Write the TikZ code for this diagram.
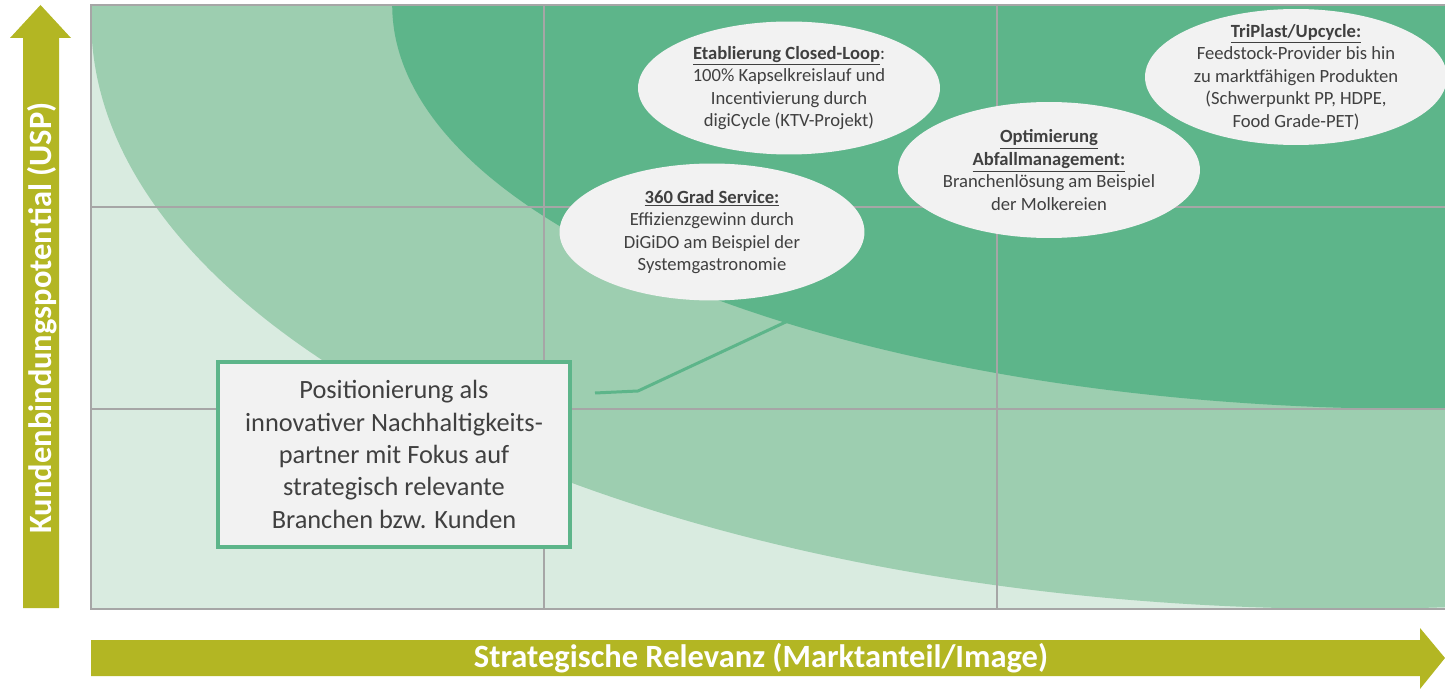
\documentclass[tikz,border=0pt]{standalone}
\usepackage{fontspec}
\setmainfont{Carlito}
\usepackage{xcolor}
\usetikzlibrary{shapes.geometric, positioning}

\definecolor{bandlight}{HTML}{D9EBE0}
\definecolor{bandmid}{HTML}{9DCEB0}
\definecolor{banddark}{HTML}{5DB58A}
\definecolor{bubblegray}{HTML}{F2F2F2}
\definecolor{txtgray}{HTML}{404040}
\definecolor{gridgray}{HTML}{A6A6A6}
\definecolor{olive}{HTML}{B3B623}

\begin{document}
\begin{tikzpicture}[x=0.02cm, y=-0.02cm,
    bubble/.style={ellipse, fill=bubblegray, text=txtgray, align=center, inner sep=-8pt,
        font=\fontsize{10.6}{12.8}\selectfont},
    callout/.style={rectangle, draw=banddark, line width=2.2pt, fill=bubblegray, text=txtgray,
        align=center, minimum width=7.04cm, minimum height=3.7cm,
        font=\fontsize{15}{18.4}\selectfont},
    axislabel/.style={text=white, font=\fontsize{18.5}{20}\selectfont\bfseries}]
\useasboundingbox (0,0) rectangle (1445,689);
%
% portfolio field
\begin{scope}
    \clip (91,5) rectangle (1445,609);
    \fill[bandlight] (91,5) rectangle (1445,609);
    \fill[bandmid] (1350,20) ellipse [x radius=25.18cm, y radius=11.78cm];
    \fill[banddark] (1420,5) ellipse [x radius=20.56cm, y radius=8.08cm];
    \draw[gridgray, line width=0.7pt]
        (544,5) -- (544,609) (997,5) -- (997,609)
        (91,207) -- (1445,207) (91,409) -- (1445,409);
\end{scope}
\draw[gridgray, line width=0.9pt] (1445,5) -- (91,5) -- (91,609) -- (1445,609);
%
% axes
\fill[olive] (23,608) -- (23,38) -- (10,38) -- (40.5,5) -- (71,38) -- (59,38) -- (59,608) -- cycle;
\node[axislabel, rotate=90] (ylab) at (42,318) {Kundenbindungspotential (USP)};
\fill[olive] (91,640) -- (1420,640) -- (1420,628) -- (1445,658) -- (1420,689) -- (1420,676) -- (91,676) -- cycle;
\node[axislabel] (xlab) at (761,658) {Strategische Relevanz (Marktanteil/Image)};
%
% bubbles
\node[bubble, minimum width=6.04cm, minimum height=2.66cm] (loop) at (789,88)
    {\textbf{\underline{Etablierung Closed-Loop}}:\\100\% Kapselkreislauf und\\Incentivierung durch\\digiCycle (KTV-Projekt)};
\node[bubble, minimum width=6.1cm, minimum height=2.74cm] (service) at (712,232)
    {\textbf{\underline{360 Grad Service:}}\\Effizienzgewinn durch\\DiGiDO am Beispiel der\\Systemgastronomie};
\node[bubble, minimum width=6.04cm, minimum height=2.72cm] (waste) at (1049,170)
    {\textbf{\underline{Optimierung}}\\\textbf{\underline{Abfallmanagement:}}\\Branchenlösung am Beispiel\\der Molkereien};
\node[bubble, minimum width=6.04cm, minimum height=2.72cm] (upcycle) at (1296,77)
    {\textbf{\underline{TriPlast/Upcycle:}}\\Feedstock-Provider bis hin\\zu marktfähigen Produkten\\(Schwerpunkt PP, HDPE,\\Food Grade-PET)};
%
% positioning box
\node[callout] (pos) at (394,454.5)
    {Positionierung als\\innovativer Nachhaltigkeits-\\partner mit Fokus auf\\strategisch relevante\\Branchen bzw. Kunden};
\coordinate (lstart) at (595,393);
\coordinate (lbend) at (638,391);
\coordinate (ltip) at (790,320);
\draw[banddark, line width=1.7pt] (lstart) -- (lbend) -- (ltip);
\end{tikzpicture}
\end{document}
